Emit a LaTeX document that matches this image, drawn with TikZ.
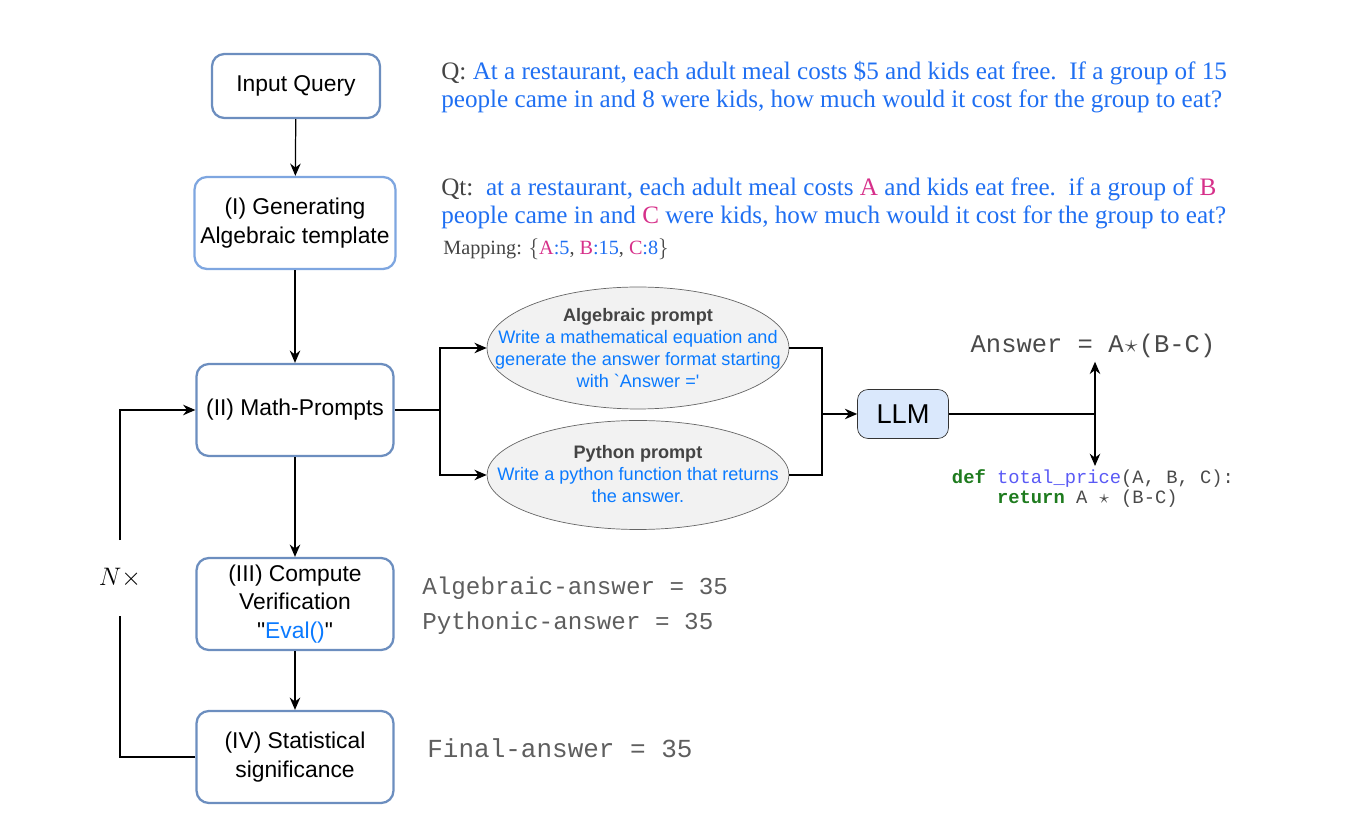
\documentclass[tikz,border=0pt]{standalone}
\usepackage{fontspec}
\setmainfont{Liberation Sans}
\setmonofont{Liberation Mono}
\newfontfamily\qfont{Liberation Serif}
\newfontfamily\rawsans{Liberation Sans}[Ligatures=TeXOff]
\usetikzlibrary{shapes.geometric,arrows.meta,positioning}
\definecolor{boxblue}{HTML}{6C8EBF}
\definecolor{boxlight}{HTML}{7EA6E0}
\definecolor{llmfill}{HTML}{DAE8FC}
\definecolor{ellfill}{HTML}{F2F2F2}
\definecolor{qblue}{HTML}{1F6FF2}
\definecolor{pblue}{HTML}{0A7AFF}
\definecolor{qmag}{HTML}{D6308A}
\definecolor{qgray}{HTML}{444444}
\definecolor{codegreen}{HTML}{1E7B1E}
\definecolor{codeblue}{HTML}{5A5AF5}
\definecolor{codegray}{HTML}{4A4A4A}
\definecolor{ansgray}{HTML}{5E5E5E}
\newcommand{\mstar}{\makebox[0.6em]{$\star$}}

\begin{document}
\begin{tikzpicture}[x=0.02cm,y=-0.02cm]
		\tikzstyle{step-box}=[draw=boxblue,line width=1.3pt,rounded corners=7pt,fill=white,align=center,minimum width=3.94cm,minimum height=1.84cm,font=\fontsize{13}{16.3}\selectfont]
		\tikzstyle{prompt-ell}=[ellipse,draw=black!60,fill=ellfill,thin,minimum width=6.04cm,minimum height=2.44cm,inner sep=0pt]
		\tikzstyle{prompt-text}=[align=center,font=\fontsize{10.3}{12.5}\selectfont,text=pblue]
		\tikzstyle{flow}=[-{Stealth[length=7pt,width=6pt]},line width=0.7pt]
		\tikzstyle{link}=[line width=0.7pt]
		\tikzstyle{q-text}=[anchor=west,inner sep=0pt,align=left,font=\qfont\fontsize{14.3}{15.9}\selectfont,text=qblue]
		\tikzstyle{mono-answer}=[anchor=west,inner sep=0pt,font=\ttfamily\fontsize{13.8}{15}\selectfont,text=ansgray]
		\useasboundingbox (0,0) rectangle (1370,830);
		% pipeline steps
		\node [step-box,minimum width=3.36cm,minimum height=1.28cm] at (296,86) (query) {Input Query};
		\node [step-box,draw=boxlight] at (295,223) (templ) {(I) Generating\\Algebraic template};
		\node [step-box] at (295,410) (prompts) {(II) Math-Prompts};
		\node [step-box] at (295,604) (verify) {(III) Compute\\Verification\\{\rawsans"}\textcolor{pblue}{Eval()}{\rawsans"}};
		\node [step-box] at (295,757) (signif) {(IV) Statistical\\significance};
		\draw [flow] (query) -- (templ);
		\draw [flow] (templ) -- (prompts);
		\draw [flow] (prompts) -- (verify);
		\draw [flow] (verify) -- (signif);
		% repeat loop
		\node [minimum height=1.5cm,inner sep=0pt,font=\fontsize{15}{18}\selectfont] at (120,578) (repeat) {$N\times$};
		\draw [link] (signif.west) -| (repeat.south);
		\draw [flow] (repeat.north) |- (prompts.west);
		% prompts
		\node [prompt-ell] at (638,348) (alg) {};
		\node [prompt-text] at (alg) {\textcolor{qgray}{\textbf{Algebraic prompt}}\\Write a mathematical equation and\\generate the answer format starting\\with {\rawsans`Answer ='}};
		\node [prompt-ell,minimum height=2.18cm] at (638,475) (py) {};
		\node [prompt-text] at (638,474) {\textcolor{qgray}{\textbf{Python prompt}}\\Write a python function that returns\\the answer.};
		\coordinate (split) at (440,410);
		\draw [link] (prompts.east) -- (split);
		\draw [flow] (split) |- (alg.west);
		\draw [flow] (split) |- (py.west);
		% LLM
		\node [draw=black!80,fill=llmfill,thin,rounded corners=6pt,minimum width=1.82cm,minimum height=0.98cm,font=\fontsize{15.5}{18}\selectfont] at (903,414) (llm) {LLM};
		\coordinate (merge) at (822,414);
		\draw [link] (alg.east) -| (merge);
		\draw [link] (py.east) -| (merge);
		\draw [flow] (merge) -- (llm.west);
		% outputs
		\node [inner sep=2pt,font=\ttfamily\fontsize{14.5}{17}\selectfont,text=codegray] at (1093,346) (ans) {Answer = A\mstar(B-C)};
		\node [anchor=north,inner sep=2pt,align=left,font=\ttfamily\fontsize{10.7}{11}\selectfont,text=codegray] at (1093,466) (code) {\textcolor{codegreen}{\textbf{def}} \textcolor{codeblue}{total\_price}(A, B, C):\\\hphantom{def }\textcolor{codegreen}{\textbf{return}} A \mstar{} (B-C)};
		\coordinate (fork) at (1095,414);
		\draw [link] (llm.east) -- (fork);
		\draw [flow] (fork) -- (fork |- ans.south);
		\draw [flow] (fork) -- (fork |- code.north);
		% question and template
		\node [q-text] at (441,87) (q) {\textcolor{qgray}{Q:} At a restaurant, each adult meal costs \$5 and kids eat free.\ \ If a group of 15\\people came in and 8 were kids, how much would it cost for the group to eat?};
		\node [q-text] at (441,203) (qt) {\textcolor{qgray}{Qt:}\ \ at a restaurant, each adult meal costs \textcolor{qmag}{A} and kids eat free.\ \ if a group of \textcolor{qmag}{B}\\people came in and \textcolor{qmag}{C} were kids, how much would it cost for the group to eat?};
		\node [q-text,font=\qfont\fontsize{11.5}{13}\selectfont,text=qgray] at (443,249) (mapping) {Mapping: $\{$\textcolor{qmag}{A}\textcolor{qblue}{:5}, \textcolor{qmag}{B}\textcolor{qblue}{:15}, \textcolor{qmag}{C}\textcolor{qblue}{:8}$\}$};
		% answers
		\node [mono-answer] at (422,588) (alganswer) {Algebraic-answer = 35};
		\node [mono-answer] at (422,623) (pyanswer) {Pythonic-answer = 35};
		\node [mono-answer,font=\ttfamily\fontsize{14.8}{15}\selectfont] at (427,748) (final) {Final-answer = 35};
	\end{tikzpicture}
\end{document}
